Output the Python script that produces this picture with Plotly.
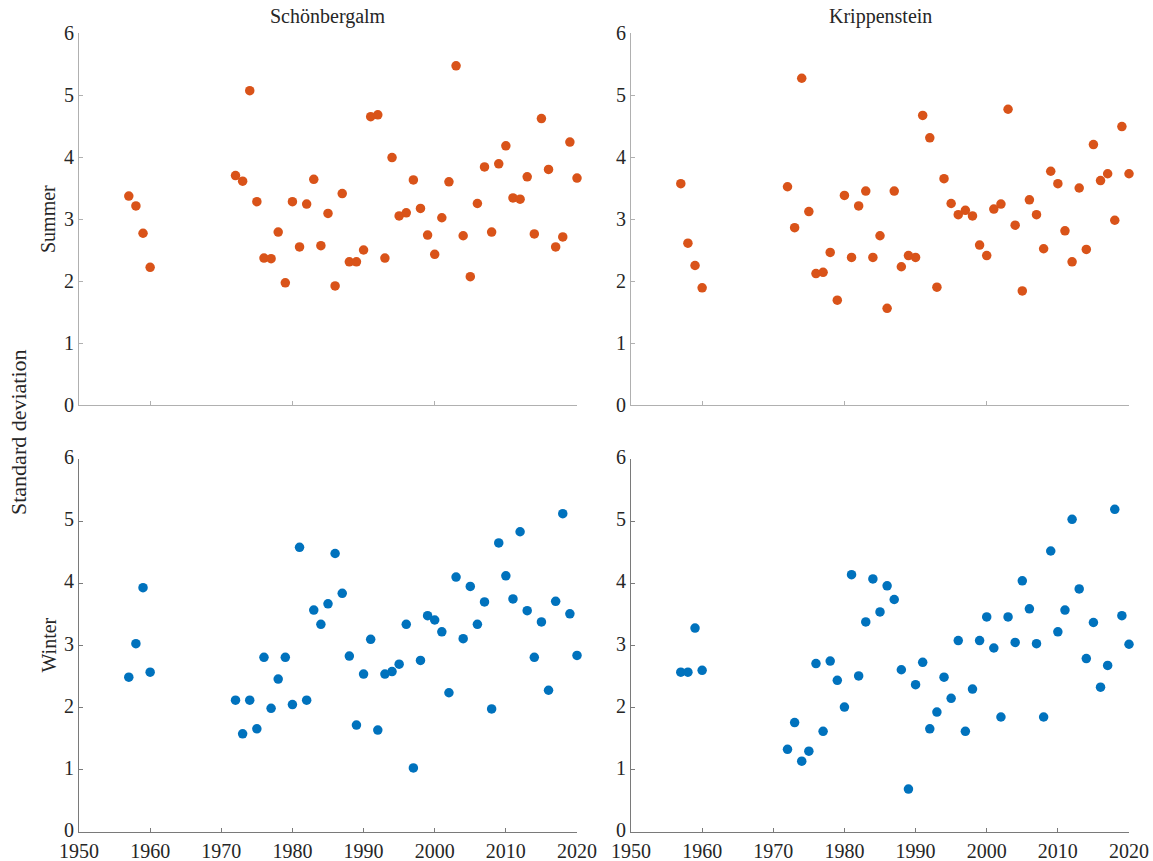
import plotly.graph_objects as go

years = [1957, 1958, 1959, 1960] + list(range(1972, 2021))

summer_schoen = [3.37, 3.21, 2.77, 2.22,
                 3.70, 3.61, 5.07, 3.28, 2.37, 2.36, 2.79, 1.97, 3.28, 2.55,
                 3.24, 3.64, 2.57, 3.09, 1.92, 3.41, 2.31, 2.31, 2.50, 4.65,
                 4.68, 2.37, 3.99, 3.05, 3.10, 3.63, 3.17, 2.74, 2.43, 3.02,
                 3.60, 5.47, 2.73, 2.07, 3.25, 3.84, 2.79, 3.89, 4.18, 3.34,
                 3.32, 3.68, 2.76, 4.62, 3.80, 2.55, 2.71, 4.24, 3.66]

summer_kripp = [3.57, 2.61, 2.25, 1.89,
                3.52, 2.86, 5.27, 3.12, 2.12, 2.14, 2.46, 1.69, 3.38, 2.38,
                3.21, 3.45, 2.38, 2.73, 1.56, 3.45, 2.23, 2.41, 2.38, 4.67,
                4.31, 1.90, 3.65, 3.25, 3.07, 3.14, 3.05, 2.58, 2.41, 3.16,
                3.24, 4.77, 2.90, 1.84, 3.31, 3.07, 2.52, 3.77, 3.57, 2.81,
                2.31, 3.50, 2.51, 4.20, 3.62, 3.73, 2.98, 4.49, 3.73]

winter_schoen = [2.49, 3.03, 3.93, 2.57,
                 2.12, 1.58, 2.12, 1.66, 2.81, 1.99, 2.46, 2.81, 2.05, 4.58,
                 2.12, 3.57, 3.34, 3.67, 4.48, 3.84, 2.83, 1.72, 2.54, 3.10,
                 1.64, 2.54, 2.58, 2.70, 3.34, 1.03, 2.76, 3.48, 3.41, 3.22,
                 2.24, 4.10, 3.11, 3.95, 3.34, 3.70, 1.98, 4.65, 4.12, 3.75,
                 4.83, 3.56, 2.81, 3.38, 2.28, 3.71, 5.12, 3.51, 2.84]

winter_kripp = [2.57, 2.57, 3.28, 2.60,
                1.33, 1.76, 1.14, 1.30, 2.71, 1.62, 2.75, 2.44, 2.01, 4.14,
                2.51, 3.38, 4.07, 3.54, 3.96, 3.74, 2.61, 0.69, 2.37, 2.73,
                1.66, 1.93, 2.49, 2.15, 3.08, 1.62, 2.30, 3.08, 3.46, 2.96,
                1.85, 3.46, 3.05, 4.04, 3.59, 3.03, 1.85, 4.52, 3.22, 3.57,
                5.03, 3.91, 2.79, 3.37, 2.33, 2.68, 5.19, 3.48, 3.02]

stations = ["Schönbergalm", "Krippenstein"]
seasons = ["Summer", "Winter"]
top_xticks = [1960, 1980, 2000, 2020]
bottom_xticks = [1950, 1960, 1970, 1980, 1990, 2000, 2010, 2020]
yticks = [0, 1, 2, 3, 4, 5, 6]

ORANGE = "#D95319"
BLUE = "#0072BD"
FONT = "Liberation Serif"
TXT = "#262626"

W, H = 1153, 861
xdom = [[79 / W, 577 / W], [631 / W, 1129 / W]]
ydom = [[1 - 405 / H, 1 - 33 / H], [1 - 832 / H, 1 - 459 / H]]

fig = go.Figure()
panels = [
    (summer_schoen, ORANGE, 0, 0),
    (summer_kripp, ORANGE, 0, 1),
    (winter_schoen, BLUE, 1, 0),
    (winter_kripp, BLUE, 1, 1),
]
layout = {}
for i, (vals, col, r, c) in enumerate(panels):
    n = i + 1
    xa = "x" if n == 1 else f"x{n}"
    ya = "y" if n == 1 else f"y{n}"
    fig.add_trace(go.Scatter(
        x=years, y=vals, mode="markers", xaxis=xa, yaxis=ya,
        marker=dict(color=col, size=9.5, line=dict(width=0)),
        cliponaxis=False, showlegend=False))
    lc = "#b0b0b0" if r == 0 else "#7a7a7a"
    layout[f"xaxis{n}" if n > 1 else "xaxis"] = dict(
        domain=xdom[c], anchor=ya, range=[1950, 2020],
        tickvals=top_xticks if r == 0 else bottom_xticks,
        showticklabels=(r == 1), automargin=False,
        ticks="inside", ticklen=4, tickcolor=lc, showline=True, linecolor=lc,
        linewidth=1, showgrid=False, zeroline=False, ticklabelstandoff=1,
        tickfont=dict(family=FONT, size=20, color=TXT))
    layout[f"yaxis{n}" if n > 1 else "yaxis"] = dict(
        domain=ydom[r], anchor=xa, range=[0, 6], tickvals=yticks,
        automargin=False, ticklabelshift=(-2 if r == 1 else 0),
        ticks="inside", ticklen=4, tickcolor=lc, showline=True, linecolor=lc,
        linewidth=1, showgrid=False, zeroline=False,
        tickfont=dict(family=FONT, size=20, color=TXT))

fig.update_layout(**layout)

ann = []
for c, name in enumerate(stations):
    ann.append(dict(text=name, x=(xdom[c][0] + xdom[c][1]) / 2, y=1 - 17 / H,
                    xref="paper", yref="paper", showarrow=False,
                    xanchor="center", yanchor="middle",
                    font=dict(family=FONT, size=20, color=TXT)))
for r, s in enumerate(seasons):
    ann.append(dict(text=s, x=48 / W, y=(ydom[r][0] + ydom[r][1]) / 2,
                    xref="paper", yref="paper", showarrow=False, textangle=-90,
                    xanchor="center", yanchor="middle",
                    font=dict(family=FONT, size=20, color=TXT)))
ann.append(dict(text="Standard deviation", x=18 / W, y=1 - 432 / H,
                xref="paper", yref="paper", showarrow=False, textangle=-90,
                xanchor="center", yanchor="middle",
                font=dict(family=FONT, size=22, color=TXT)))

fig.update_layout(width=W, height=H, margin=dict(l=0, r=0, t=0, b=0),
                  paper_bgcolor="white", plot_bgcolor="white",
                  annotations=ann)
fig.write_html("out.html")
